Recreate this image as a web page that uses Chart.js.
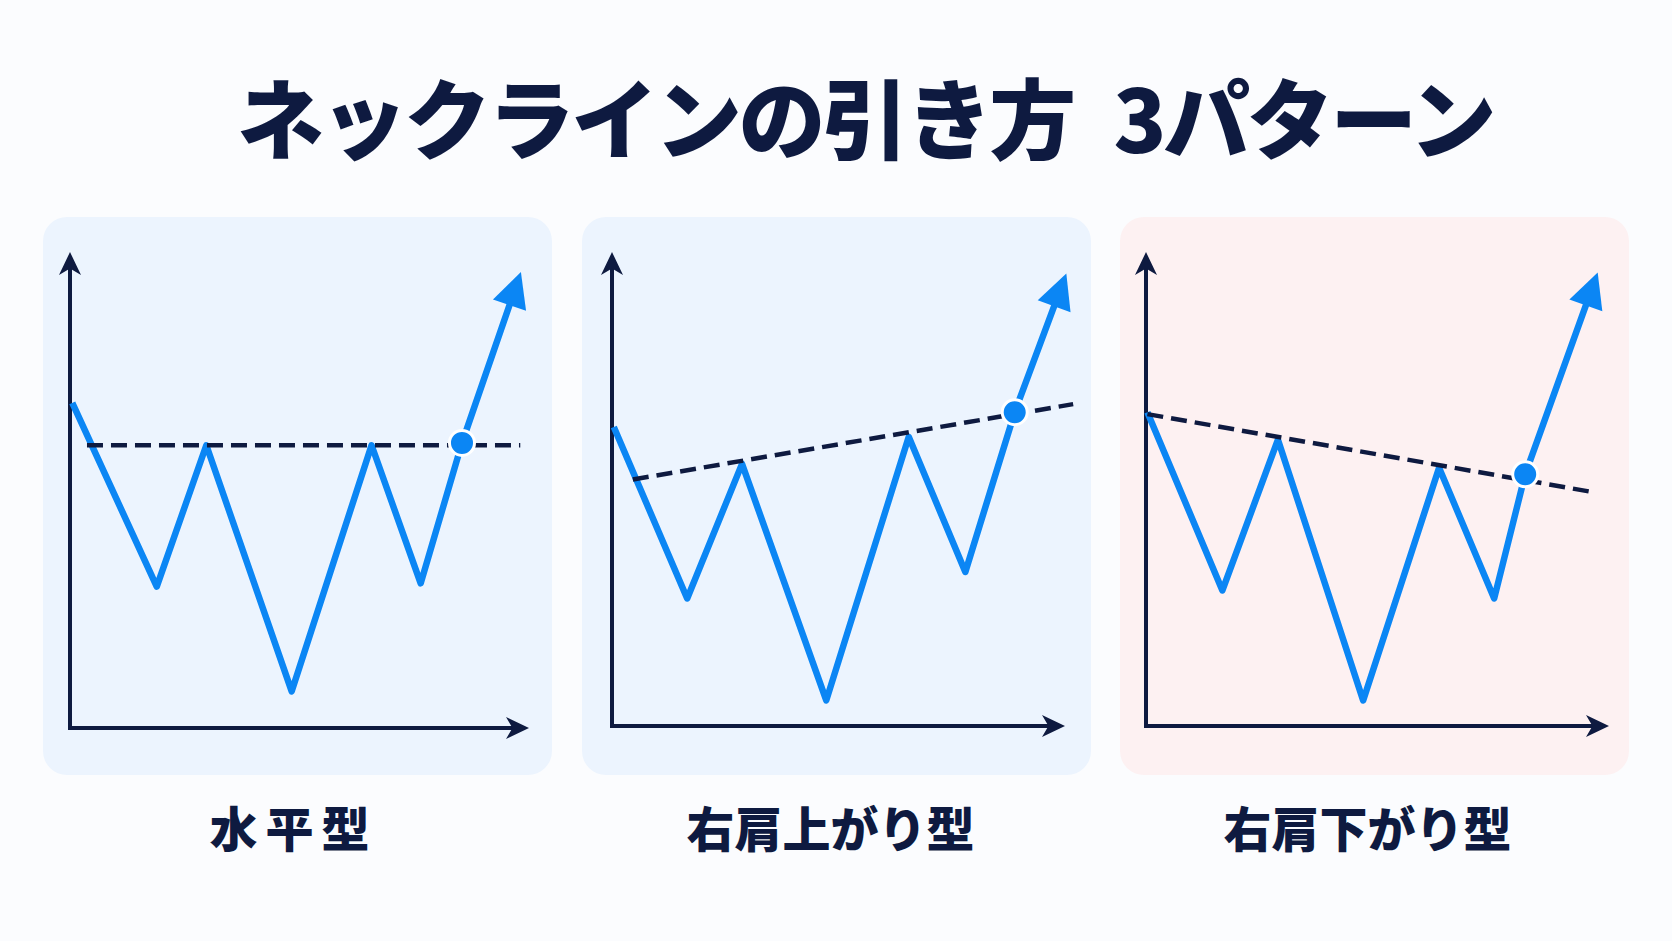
<!DOCTYPE html>
<html lang="ja">
<head>
<meta charset="utf-8">
<title>ネックラインの引き方 3パターン</title>
<script src="https://cdn.jsdelivr.net/npm/chart.js@4.4.1/dist/chart.umd.min.js"></script>
<style>
  html, body { margin: 0; padding: 0; }
  body {
    width: 1672px; height: 941px; position: relative; overflow: hidden;
    background: #fbfcfe;
    font-family: "Noto Sans CJK JP", "Noto Sans", sans-serif;
    color: #0e1a40;
  }
  .title {
    position: absolute; left: 0; top: 67px; width: 1730px;
    text-align: center; font-size: 87px; line-height: 96px;
    font-weight: 900; letter-spacing: -3.4px; word-spacing: 24px;
  }
  .panel {
    position: absolute; top: 217px; width: 509px; height: 558px;
    border-radius: 24px;
  }
  .panel canvas { position: absolute; left: 0; top: 0; }
  .label {
    position: absolute; top: 796px; width: 509px;
    text-align: center; font-size: 48px; line-height: 60px; font-weight: 900;
  }
</style>
</head>
<body>
<div class="title">ネックラインの引き方 3パターン</div>

<div class="panel" style="left:43px;background:#ecf4fe"><canvas id="flatChart" width="509" height="558"></canvas></div>
<div class="panel" style="left:582px;background:#ecf4fe"><canvas id="upChart" width="509" height="558"></canvas></div>
<div class="panel" style="left:1120px;background:#fdf1f2"><canvas id="downChart" width="509" height="558"></canvas></div>

<div class="label" style="left:39px;letter-spacing:8px">水平型</div>
<div class="label" style="left:576px">右肩上がり型</div>
<div class="label" style="left:1113px">右肩下がり型</div>

<script>
// 値は図から読み取った目安（x, y とも軸の長さを 0〜100 とした単位）
const categories = ['水平型', '右肩上がり型', '右肩下がり型'];

// 水平型
const flatPriceX = [0.5, 18.9, 29.7, 48.3, 65.7, 76.4, 85.4, 97.6];
const flatPriceY = [68.3, 29.7, 59.4, 7.7, 59.4, 30.4, 59.9, 94.0];
const flatNeckX = [3.7, 98.1];
const flatNeckY = [59.4, 59.4];
const flatBreak = [85.4, 59.9];

// 右肩上がり型
const upPriceX = [0.4, 16.6, 28.7, 47.3, 65.5, 78.0, 88.9, 99.6];
const upPriceY = [63.1, 26.9, 55.3, 5.4, 61.0, 32.5, 66.2, 93.7];
const upNeckX = [4.6, 101.8];
const upNeckY = [52.0, 67.9];
const upBreak = [88.9, 66.2];

// 右肩下がり型
const downPriceX = [0.3, 16.5, 28.5, 46.9, 63.3, 75.2, 81.9, 96.9];
const downPriceY = [66.2, 28.6, 60.4, 5.4, 54.5, 26.9, 53.1, 93.9];
const downNeckX = [0.3, 96.8];
const downNeckY = [65.8, 49.3];
const downBreak = [81.9, 53.1];

const BLUE = '#0b86f4';
const NAVY = '#0e1a40';

function toPoints(xs, ys) {
    return xs.map((x, i) => ({ x: x, y: ys[i] }));
}

// 軸の矢印（塗りつぶしの切り欠き付き）
function axisHead(ctx, x, y, angle, len, half) {
    ctx.save();
    ctx.translate(x, y);
    ctx.rotate(angle);
    ctx.beginPath();
    ctx.moveTo(0, 0);
    ctx.lineTo(-len, -half);
    ctx.lineTo(-len * 0.72, 0);
    ctx.lineTo(-len, half);
    ctx.closePath();
    ctx.fill();
    ctx.restore();
}

const decorPlugin = {
    id: 'neckDecor',
    beforeDatasetsDraw(chart) {
        const ctx = chart.ctx;
        const a = chart.chartArea;
        ctx.save();
        ctx.strokeStyle = NAVY;
        ctx.fillStyle = NAVY;
        ctx.lineWidth = 4;
        ctx.lineCap = 'butt';
        ctx.beginPath();
        ctx.moveTo(a.left, a.top + 6);
        ctx.lineTo(a.left, a.bottom);
        ctx.lineTo(a.right - 6, a.bottom);
        ctx.stroke();
        axisHead(ctx, a.left, a.top, -Math.PI / 2, 23, 11);
        axisHead(ctx, a.right, a.bottom, 0, 23, 11);
        ctx.restore();
    },
    afterDatasetsDraw(chart) {
        // 価格線の最後の区間に矢じりを付ける
        const meta = chart.getDatasetMeta(2);
        const pts = meta.data;
        if (pts.length < 2) return;
        const p1 = pts[pts.length - 2];
        const p2 = pts[pts.length - 1];
        const ang = Math.atan2(p2.y - p1.y, p2.x - p1.x);
        const ctx = chart.ctx;
        ctx.save();
        ctx.fillStyle = BLUE;
        ctx.translate(p2.x, p2.y);
        ctx.rotate(ang);
        ctx.beginPath();
        ctx.moveTo(9, 0);
        ctx.lineTo(-26, -17.5);
        ctx.lineTo(-26, 17.5);
        ctx.closePath();
        ctx.fill();
        ctx.restore();
    }
};

function makeChart(id, priceX, priceY, neckX, neckY, brk, pad) {
    const ctx = document.getElementById(id).getContext('2d');
    return new Chart(ctx, {
        type: 'line',
        data: {
            datasets: [
                {
                    label: 'ブレイク',
                    data: [{ x: brk[0], y: brk[1] }],
                    showLine: false,
                    pointRadius: 12.5,
                    pointBackgroundColor: BLUE,
                    pointBorderColor: '#ffffff',
                    pointBorderWidth: 3,
                    clip: false,
                    order: 0
                },
                {
                    label: 'ネックライン',
                    data: toPoints(neckX, neckY),
                    borderColor: NAVY,
                    borderWidth: 4.5,
                    borderDash: [16, 8],
                    pointRadius: 0,
                    tension: 0,
                    clip: false,
                    order: 1
                },
                {
                    label: '価格',
                    data: toPoints(priceX, priceY),
                    borderColor: BLUE,
                    borderWidth: 6.5,
                    borderJoinStyle: 'round',
                    borderCapStyle: 'butt',
                    pointRadius: 0,
                    tension: 0,
                    clip: false,
                    order: 2
                }
            ]
        },
        options: {
            responsive: false,
            animation: false,
            events: [],
            layout: { padding: pad },
            plugins: {
                legend: { display: false },
                tooltip: { enabled: false }
            },
            scales: {
                x: { type: 'linear', min: 0, max: 100, display: false },
                y: { type: 'linear', min: 0, max: 100, display: false }
            }
        },
        plugins: [decorPlugin]
    });
}

makeChart('flatChart', flatPriceX, flatPriceY, flatNeckX, flatNeckY, flatBreak,
    { left: 27, right: 23, top: 35, bottom: 47 });
makeChart('upChart', upPriceX, upPriceY, upNeckX, upNeckY, upBreak,
    { left: 30, right: 26, top: 35, bottom: 49 });
makeChart('downChart', downPriceX, downPriceY, downNeckX, downNeckY, downBreak,
    { left: 26, right: 20, top: 35, bottom: 49 });
</script>
</body>
</html>
